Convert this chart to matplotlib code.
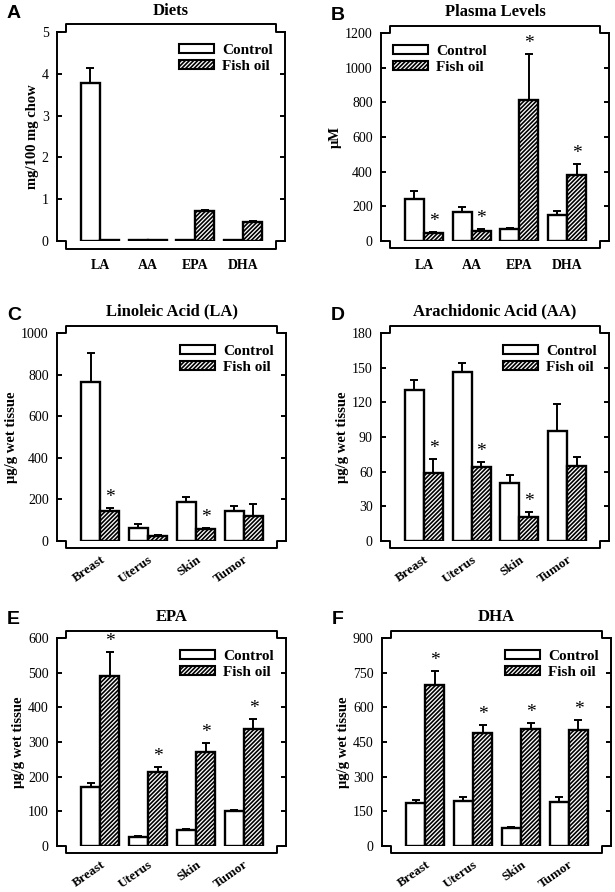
import numpy as np
import matplotlib

matplotlib.use("Agg")
import matplotlib.pyplot as plt  # noqa: E402
from matplotlib.patches import Patch  # noqa: E402

plt.rcParams["font.family"] = ["Liberation Serif", "DejaVu Serif"]
plt.rcParams["hatch.linewidth"] = 1.2

# ------------------------------------------------------------------ data
fatty = ["LA", "AA", "EPA", "DHA"]
tissues = ["Breast", "Uterus", "Skin", "Tumor"]

diet_ctrl = [3.77, 0.02, 0.02, 0.02]
diet_ctrl_err = [0.37, 0.0, 0.0, 0.0]
diet_fish = [0.02, 0.02, 0.72, 0.46]
diet_fish_err = [0.0, 0.0, 0.02, 0.02]

plasma_ctrl = [240, 170, 70, 150]
plasma_ctrl_err = [48, 28, 4, 23]
plasma_fish = [48, 59, 812, 380]
plasma_fish_err = [5, 10, 265, 64]

la_ctrl = [764, 62, 187, 144]
la_ctrl_err = [141, 20, 23, 26]
la_fish = [144, 23, 56, 120]
la_fish_err = [15, 7, 6, 60]

aa_ctrl = [131, 146, 50, 95.5]
aa_ctrl_err = [8, 8, 7, 23]
aa_fish = [58.6, 64, 21, 65]
aa_fish_err = [12.4, 4, 4, 8]

epa_ctrl = [170, 27, 46, 101]
epa_ctrl_err = [12, 1, 4, 2]
epa_fish = [490, 213, 272, 338]
epa_fish_err = [69, 15, 26, 28]

dha_ctrl = [187, 194, 76, 190]
dha_ctrl_err = [12, 19, 8, 20]
dha_fish = [696, 490, 506, 500]
dha_fish_err = [62, 33, 27, 46]

panels = [
    dict(letter="A", title="Diets", ylabel="mg/100 mg chow", cats=fatty,
         ctrl=diet_ctrl, cerr=diet_ctrl_err, fish=diet_fish, ferr=diet_fish_err,
         ymax=5, step=1, stars=[], leg="upper right", rect=(57, 285, 32, 241)),
    dict(letter="B", title="Plasma Levels", ylabel="\u03bcM", cats=fatty,
         ctrl=plasma_ctrl, cerr=plasma_ctrl_err, fish=plasma_fish, ferr=plasma_fish_err,
         ymax=1200, step=200, stars=[0, 1, 2, 3], leg="upper left", rect=(381, 609, 33, 241)),
    dict(letter="C", title="Linoleic Acid (LA)", ylabel="\u03bcg/g wet tissue", cats=tissues,
         ctrl=la_ctrl, cerr=la_ctrl_err, fish=la_fish, ferr=la_fish_err,
         ymax=1000, step=200, stars=[0, 2], leg="upper right", rect=(57, 286, 333, 541)),
    dict(letter="D", title="Arachidonic Acid (AA)", ylabel="\u03bcg/g wet tissue", cats=tissues,
         ctrl=aa_ctrl, cerr=aa_ctrl_err, fish=aa_fish, ferr=aa_fish_err,
         ymax=180, step=30, stars=[0, 1, 2], leg="upper right", rect=(381, 609, 333, 541)),
    dict(letter="E", title="EPA", ylabel="\u03bcg/g wet tissue", cats=tissues,
         ctrl=epa_ctrl, cerr=epa_ctrl_err, fish=epa_fish, ferr=epa_fish_err,
         ymax=600, step=100, stars=[0, 1, 2, 3], leg="upper right", rect=(57, 286, 638, 846)),
    dict(letter="F", title="DHA", ylabel="\u03bcg/g wet tissue", cats=tissues,
         ctrl=dha_ctrl, cerr=dha_ctrl_err, fish=dha_fish, ferr=dha_fish_err,
         ymax=900, step=150, stars=[0, 1, 2, 3], leg="upper right", rect=(382, 611, 638, 846)),
]

W, H = 615, 892
fig = plt.figure(figsize=(W / 100, H / 100), dpi=100)

BW = 0.4
HATCH = "////////"
for p in panels:
    l, r, t, b = p["rect"]
    ax = fig.add_axes([l / W, 1 - b / H, (r - l) / W, (b - t) / H])
    x = np.arange(len(p["cats"]))
    ax.bar(x - BW / 2, p["ctrl"], BW, color="white", edgecolor="black", lw=1.7, zorder=3)
    ax.bar(x + BW / 2, p["fish"], BW, color="white", edgecolor="black", lw=1.7,
           hatch=HATCH, zorder=3)
    for xs, v, e in [(x - BW / 2, p["ctrl"], p["cerr"]), (x + BW / 2, p["fish"], p["ferr"])]:
        ax.errorbar(xs, v, yerr=[np.zeros(len(e)), e], fmt="none", ecolor="black",
                    elinewidth=1.4, capsize=3, capthick=1.4, zorder=2)
    for i in p["stars"]:
        top = p["fish"][i] + p["ferr"][i]
        ax.text(i + BW / 2, top + p["ymax"] * 0.01, "*", ha="center", va="bottom",
                fontsize=14)

    ax.set_xlim(-0.9, 3.88)
    ax.set_ylim(0, p["ymax"])
    ax.set_yticks(np.arange(0, p["ymax"] + 1e-9, p["step"]))
    ax.tick_params(axis="y", direction="in", left=True, right=True, length=3.5,
                   width=1.4, labelsize=10, pad=6)
    ax.set_xticks(x)
    if p["cats"] is tissues:
        ax.set_xticklabels(p["cats"], rotation=35, ha="right", rotation_mode="anchor",
                           fontweight="bold", fontsize=9.5)
        ax.tick_params(axis="x", length=0, pad=9)
    else:
        ax.set_xticklabels(p["cats"], fontweight="bold", fontsize=10)
        ax.tick_params(axis="x", length=0, pad=13)
    for s in ["top", "bottom"]:
        ax.spines[s].set_visible(False)
    for s in ["left", "right"]:
        ax.spines[s].set_linewidth(1.4)

    # bracket-style top and bottom frame
    d, e = 0.04, 0.036
    ax.plot([0, d, d, 1 - d, 1 - d, 1], [1, 1, 1 + e, 1 + e, 1, 1],
            color="black", lw=1.4, transform=ax.transAxes, clip_on=False)
    ax.plot([0, d, d, 1 - d, 1 - d, 1], [0, 0, -e, -e, 0, 0],
            color="black", lw=1.4, transform=ax.transAxes, clip_on=False)

    ax.set_ylabel(p["ylabel"], fontweight="bold", fontsize=10.5, labelpad=2)
    ax.set_title(p["title"], fontweight="bold", fontsize=12, pad=12.5)

    handles = [Patch(facecolor="white", edgecolor="black", lw=1.5, label="Control"),
               Patch(facecolor="white", edgecolor="black", lw=1.5, hatch=HATCH,
                     label="Fish oil")]
    ax.legend(handles=handles, loc=p["leg"], frameon=False, handlelength=2.3,
              handleheight=0.55, prop=dict(weight="bold", size=11),
              borderaxespad=0.4, labelspacing=0.2, handletextpad=0.5)

    fig.text((l - 50) / W, 1 - (t - 18) / H, p["letter"], fontsize=14, fontweight="bold",
             family="Liberation Sans", ha="left", va="center")

fig.savefig("out.png", dpi=100)
